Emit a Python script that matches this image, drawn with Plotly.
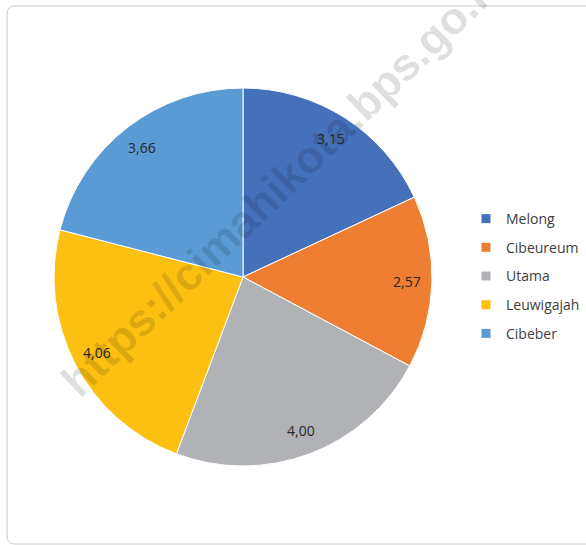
import math
import plotly.graph_objects as go

categories = ["Melong", "Cibeureum", "Utama", "Leuwigajah", "Cibeber"]
values = [3.15, 2.57, 4.00, 4.06, 3.66]
value_labels = ["3,15", "2,57", "4,00", "4,06", "3,66"]
colors = ["#4571BB", "#EE7E32", "#B1B2B5", "#FBC012", "#5A9BD5"]

W, H = 586, 545
cx, cy, r = 243, 277, 189
label_frac = 0.87

fig = go.Figure()
fig.add_trace(go.Pie(
    labels=categories,
    values=values,
    textinfo="none",
    marker=dict(colors=colors, line=dict(color="white", width=1)),
    sort=False,
    direction="clockwise",
    rotation=0,
    showlegend=False,
    domain=dict(x=[(cx - r) / W, (cx + r) / W], y=[(H - cy - r) / H, (H - cy + r) / H]),
))

# data labels placed along each slice's mid-angle
annotations = []
total = sum(values)
cum = 0.0
for v, t in zip(values, value_labels):
    mid = (cum + v / 2) / total * 2 * math.pi
    cum += v
    px = cx + r * label_frac * math.sin(mid)
    py = cy - r * label_frac * math.cos(mid)
    annotations.append(dict(
        text=t, xref="paper", yref="paper", x=px / W, y=1 - py / H,
        showarrow=False, xanchor="center", yanchor="middle",
        font=dict(family="Open Sans", size=14, color="#262626"),
    ))

# legend entries
for name, col in zip(categories, colors):
    fig.add_trace(go.Scatter(
        x=[None], y=[None], mode="markers", name=name, legendgroup=name,
        marker=dict(symbol="square", size=9, color=col),
    ))

x0 = 7 / W
yt = 1 - 6 / H
yb = 1 - 544 / H
dx = 8 / W
dy = 8 / H
path = (f"M 1.02,{yt} L {x0+dx},{yt} Q {x0},{yt} {x0},{yt-dy} "
        f"L {x0},{yb+dy} Q {x0},{yb} {x0+dx},{yb} L 1.02,{yb}")

annotations.append(dict(
    text="<b>https://cimahikota.bps.go.id</b>", xref="paper", yref="paper",
    x=284 / W, y=1 - 180 / H, showarrow=False, textangle=-44,
    xanchor="center", yanchor="middle",
    font=dict(family="Liberation Sans", size=45, color="rgba(0,0,0,0.13)"),
))

fig.update_layout(
    width=W, height=H,
    margin=dict(l=0, r=0, t=0, b=0),
    paper_bgcolor="white", plot_bgcolor="white",
    xaxis=dict(visible=False), yaxis=dict(visible=False),
    showlegend=True,
    legend=dict(
        x=466 / W, y=1 - 276 / H, xanchor="left", yanchor="middle",
        font=dict(family="Open Sans", size=14, color="#404040"),
        tracegroupgap=7.5, itemwidth=30,
        bgcolor="rgba(0,0,0,0)",
    ),
    shapes=[dict(type="path", xref="paper", yref="paper", path=path,
                 line=dict(color="#C9C9C9", width=1))],
    annotations=annotations,
)

fig.write_html("out.html", config={"displayModeBar": False},
               post_script="document.body.style.margin='0';")
